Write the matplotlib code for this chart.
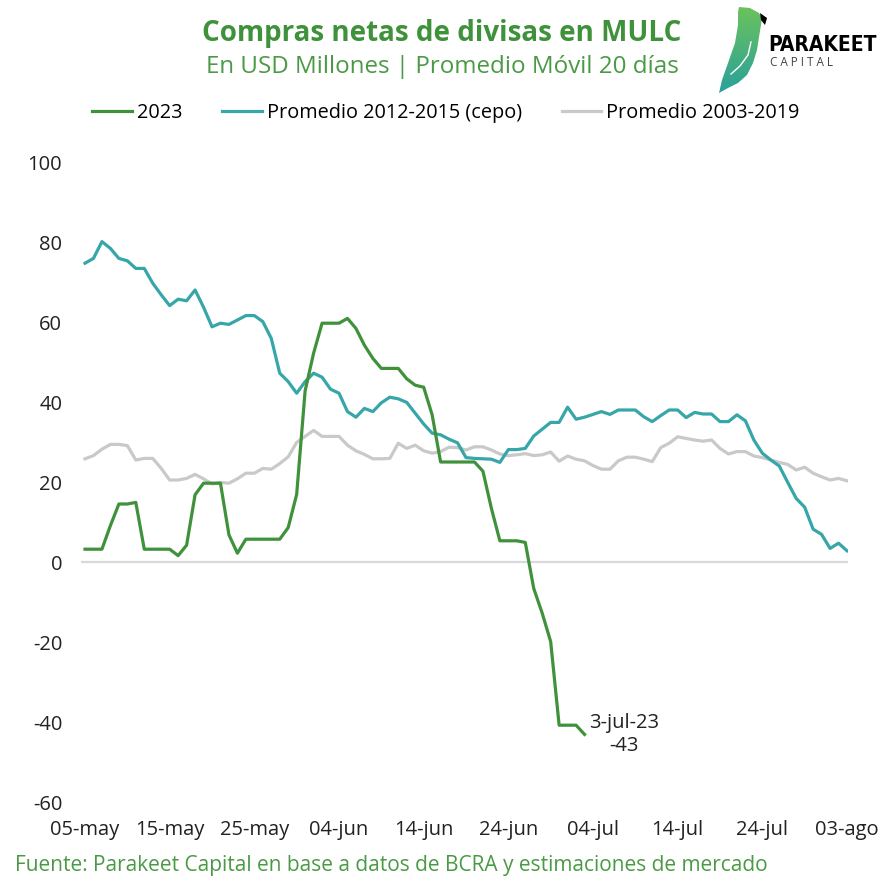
import numpy as np
import matplotlib
matplotlib.use("Agg")
import matplotlib.pyplot as plt
from matplotlib.patches import Polygon

# ---------- datos (USD millones, promedio móvil 20 días) ----------
TICK_LABELS = ["05-may", "15-may", "25-may", "04-jun", "14-jun",
               "24-jun", "04-jul", "14-jul", "24-jul", "03-ago"]

# 2023: un valor por día desde 05-may hasta 03-jul
SERIE_2023 = [3.2, 3.2, 3.2, 9.1, 14.5, 14.5, 14.9, 3.2, 3.2, 3.2,
              3.2, 1.6, 4.2, 16.8, 19.7, 19.7, 19.7, 6.8, 2.2, 5.7,
              5.7, 5.7, 5.7, 5.7, 8.6, 16.9, 42.8, 52.2, 59.7, 59.7,
              59.7, 60.9, 58.4, 54.2, 50.9, 48.4, 48.4, 48.4, 45.8, 44.2,
              43.7, 36.8, 25.0, 25.0, 25.0, 25.0, 25.0, 22.7, 13.4, 5.3,
              5.3, 5.3, 4.9, -6.6, -12.8, -19.9, -40.8, -40.8, -40.8, -43.1]

# Promedio 2012-2015 (cepo): 05-may a 03-ago
SERIE_CEPO = [74.7, 75.9, 80.1, 78.4, 75.9, 75.3, 73.4, 73.4, 69.7, 66.8,
              64.1, 65.7, 65.3, 68.0, 63.7, 58.8, 59.7, 59.4, 60.5, 61.6,
              61.6, 60.1, 55.9, 47.2, 45.1, 42.2, 45.1, 47.2, 46.2, 43.2,
              42.2, 37.6, 36.2, 38.4, 37.6, 39.8, 41.2, 40.8, 39.9, 37.2,
              34.5, 32.2, 31.8, 30.7, 29.8, 26.1, 25.9, 25.8, 25.7, 24.9,
              28.1, 28.1, 28.4, 31.5, 33.2, 34.9, 34.9, 38.7, 35.7, 36.2,
              36.9, 37.6, 36.9, 38.0, 38.0, 38.0, 36.3, 35.1, 36.6, 38.0,
              38.0, 36.1, 37.4, 37.0, 37.0, 35.1, 35.1, 36.8, 35.3, 30.5,
              27.2, 25.5, 24.0, 19.9, 15.9, 13.7, 8.2, 6.9, 3.4, 4.7,
              2.8]

# Promedio 2003-2019
SERIE_HIST = [25.8, 26.6, 28.2, 29.4, 29.4, 29.1, 25.5, 25.9, 25.9, 23.4,
              20.5, 20.5, 20.9, 21.9, 20.8, 19.5, 19.9, 19.7, 20.8, 22.2,
              22.2, 23.4, 23.2, 24.6, 26.3, 29.9, 31.4, 32.9, 31.4, 31.4,
              31.4, 29.2, 27.8, 26.9, 25.8, 25.8, 25.9, 29.7, 28.4, 29.2,
              27.8, 27.2, 27.6, 28.7, 28.6, 28.0, 28.8, 28.8, 28.0, 27.0,
              26.6, 26.8, 27.1, 26.6, 26.8, 27.5, 25.2, 26.5, 25.7, 25.3,
              24.1, 23.2, 23.2, 25.3, 26.2, 26.2, 25.7, 25.1, 28.6, 29.7,
              31.3, 30.9, 30.5, 30.2, 30.5, 28.4, 27.0, 27.6, 27.6, 26.5,
              26.1, 25.5, 24.9, 24.4, 23.0, 23.7, 22.2, 21.3, 20.5, 20.9,
              20.3]

VERDE = "#3f923b"
TEAL = "#36a6a9"
GRIS = "#c9c9c9"
FUENTE = "Open Sans"

W = H = 886
DPI = 100

plt.rcParams["font.family"] = [FUENTE, "DejaVu Sans"]
plt.rcParams["axes.unicode_minus"] = False

fig = plt.figure(figsize=(W / DPI, H / DPI), dpi=DPI)
fig.patch.set_facecolor("white")

# ejes en píxeles de la referencia
x0, x1, ytop, ybot = 81, 848, 162, 802
ax = fig.add_axes([x0 / W, 1 - ybot / H, (x1 - x0) / W, (ybot - ytop) / H])

px_dia = (847 - 85) / 90
ax.set_xlim((x0 - 85) / px_dia, (x1 - 85) / px_dia)
ax.set_ylim(-60, 100)

d23 = np.arange(len(SERIE_2023))
dc = np.arange(len(SERIE_CEPO))
dh = np.arange(len(SERIE_HIST))

ax.axhline(0, color="#d9d9d9", lw=1.6, zorder=1)
l_h, = ax.plot(dh, SERIE_HIST, color=GRIS, lw=2.3, label="Promedio 2003-2019", zorder=2)
l_c, = ax.plot(dc, SERIE_CEPO, color=TEAL, lw=2.3, label="Promedio 2012-2015 (cepo)", zorder=3)
l_23, = ax.plot(d23, SERIE_2023, color=VERDE, lw=2.3, label="2023", zorder=4)

for s in ax.spines.values():
    s.set_visible(False)
ax.set_xticks(np.arange(0, 91, 10))
ax.set_xticklabels(TICK_LABELS)
ax.set_yticks(np.arange(-60, 101, 20))
ax.tick_params(length=0, labelsize=14.5, colors="#222222")
ax.tick_params(axis="x", pad=13)
ax.tick_params(axis="y", pad=13.5)

# anotación último dato
ult = len(SERIE_2023) - 1
ax.annotate(f"3-jul-23\n{SERIE_2023[ult]:.0f}", xy=(ult, SERIE_2023[ult]),
            xytext=(28.5, 0), textcoords="offset points", ha="center", va="center",
            fontsize=14.5, color="#222222", linespacing=1.25)

# leyenda
fig.legend(handles=[l_23, l_c, l_h], loc="center", ncol=3,
           bbox_to_anchor=(446 / W, 1 - 113 / H), frameon=False,
           fontsize=14.3, handlelength=2.0, handletextpad=0.25,
           columnspacing=2.0)

# títulos
fig.text(442 / W, 1 - 34 / H, "Compras netas de divisas en MULC", ha="center",
         va="center", fontsize=20, fontweight="bold", color=VERDE)
fig.text(442 / W, 1 - 67 / H, "En USD Millones | Promedio Móvil 20 días", ha="center",
         va="center", fontsize=17.4, color="#4a9a45")
fig.text(15 / W, 1 - 866 / H,
         "Fuente: Parakeet Capital en base a datos de BCRA y estimaciones de mercado",
         ha="left", va="center", fontsize=15, color="#4a9a45")

# logo (aprox.)
lax = fig.add_axes([0, 0, 1, 1], zorder=-1)
lax.set_xlim(0, W)
lax.set_ylim(H, 0)
lax.axis("off")
ave = [(739, 7), (750, 8), (759, 13), (762, 18), (761, 25), (759, 37), (757, 50),
       (753, 63), (747, 75), (738, 83), (728, 88), (719, 93), (722, 80), (728, 63),
       (735, 43), (738, 25), (738, 12)]
poly = Polygon(ave, closed=True, facecolor="none", edgecolor="none")
lax.add_patch(poly)
grad = np.linspace(0, 1, 100).reshape(-1, 1)
img = lax.imshow(grad, extent=(715, 765, 93, 5), cmap=matplotlib.colors.LinearSegmentedColormap.from_list(
    "p", ["#6cc35b", "#2aa19b"]), aspect="auto", zorder=1)
img.set_clip_path(poly)
lax.add_patch(Polygon([(760, 13), (767, 18), (765, 25), (761, 20)], closed=True,
                      facecolor="black", edgecolor="none", zorder=2))
lax.plot([751, 748, 740, 731], [42, 55, 66, 74], color="white", lw=1.0, zorder=3)
lax.text(768, 45, "PARAKEET", ha="left", va="center", fontsize=15, fontweight="bold",
         color="black", family=["DejaVu Sans"], stretch="condensed")
lax.text(770, 62, "C A P I T A L", ha="left", va="center", fontsize=8.5, color="#444444")

fig.savefig("out.png", dpi=DPI, facecolor="white")
